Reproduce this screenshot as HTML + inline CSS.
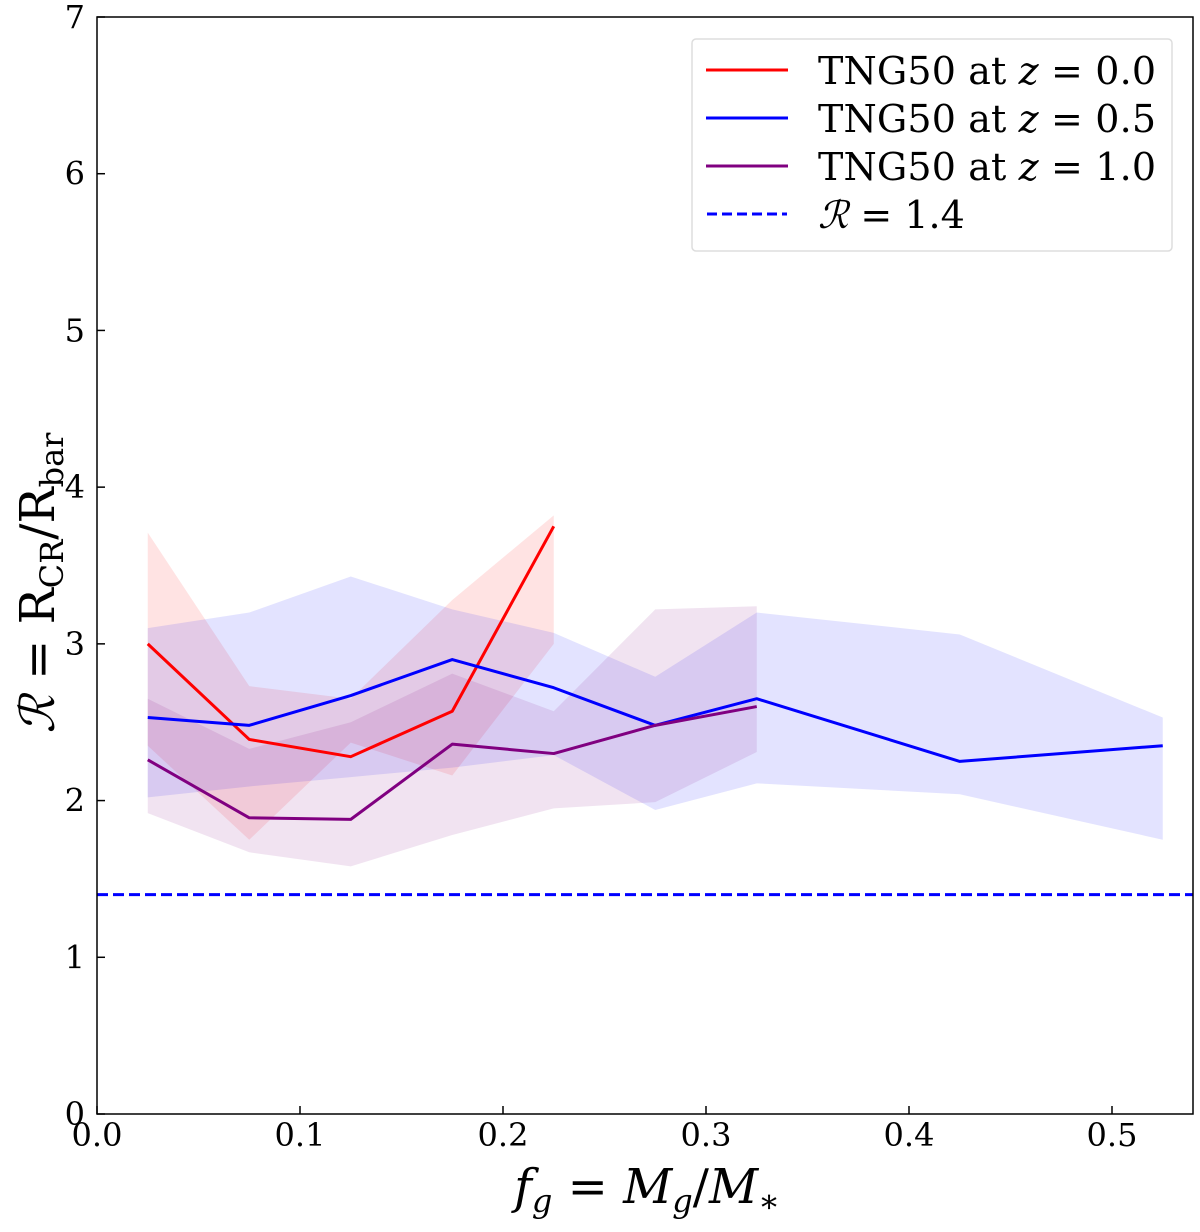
<!DOCTYPE html>
<html><head><meta charset="utf-8"><style>
html,body{margin:0;padding:0;background:#fff;width:1200px;height:1232px;overflow:hidden}
svg{display:block}
text{font-family:"DejaVu Serif","Liberation Serif",serif;fill:#000}
</style></head><body>
<svg id="chart" width="1200" height="1232"></svg>
<script>
const xs = [0.025,0.075,0.125,0.175,0.225,0.275,0.325,0.425,0.525];
const redY = [3.0,2.39,2.28,2.57,3.75];
const redUp = [3.71,2.73,2.65,3.28,3.82];
const redLo = [2.35,1.75,2.37,2.16,3.0];
const blueY = [2.53,2.48,2.67,2.90,2.72,2.48,2.65,2.25,2.35];
const blueUp = [3.10,3.20,3.43,3.22,3.07,2.79,3.20,3.06,2.53];
const blueLo = [2.02,2.09,2.15,2.21,2.29,1.94,2.11,2.04,1.75];
const purY = [2.26,1.89,1.88,2.36,2.30,2.48,2.60];
const purUp = [2.65,2.33,2.50,2.81,2.57,3.22,3.24];
const purLo = [1.92,1.67,1.58,1.78,1.95,1.99,2.31];
const xTicks = [0.0,0.1,0.2,0.3,0.4,0.5];
const yTicks = [0,1,2,3,4,5,6,7];
const refLine = 1.4;

const L=97,R=1193,T=17,B=1114;
const xs_=v=>L+v*(1015/0.5);
const Y=v=>B-v*(B-T)/7;
const NS="http://www.w3.org/2000/svg";
const svg=document.getElementById('chart');
function mk(tag,attrs,parent){const e=document.createElementNS(NS,tag);for(const k in attrs)e.setAttribute(k,attrs[k]);(parent||svg).appendChild(e);return e;}

function band(up,lo,color,name){
  const n=up.length;let pts=[];
  for(let i=0;i<n;i++)pts.push(xs_(xs[i])+','+Y(up[i]));
  for(let i=n-1;i>=0;i--)pts.push(xs_(xs[i])+','+Y(lo[i]));
  const p=mk('polygon',{points:pts.join(' '),fill:color,'fill-opacity':0.11});
  
  
}
function line(ys,color,name){
  const pts=ys.map((v,i)=>xs_(xs[i])+','+Y(v)).join(' ');
  const p=mk('polyline',{points:pts,fill:'none',stroke:color,'stroke-width':3,'stroke-linejoin':'round'});
  
  
}
band(redUp,redLo,'#ff0000','band-z0');
band(blueUp,blueLo,'#0000ff','band-z05');
band(purUp,purLo,'#800080','band-z1');
line(redY,'#ff0000','line-z0');
line(blueY,'#0000ff','line-z05');
line(purY,'#800080','line-z1');
const rl=mk('line',{x1:L,x2:R,y1:Y(refLine),y2:Y(refLine),stroke:'#0000ff','stroke-width':3,'stroke-dasharray':'11,5'});



const frame=mk('rect',{x:L,y:T,width:R-L,height:B-T,fill:'none',stroke:'#000','stroke-width':1.5});



xTicks.forEach(v=>{
  const x=xs_(v);
  mk('line',{x1:x,x2:x,y1:B,y2:B-8,stroke:'#000','stroke-width':1.5});
  const t=mk('text',{x:x,y:B+32,'font-size':32,'text-anchor':'middle'});t.textContent=v.toFixed(1);
  
  
});
yTicks.forEach(v=>{
  const y=Y(v);
  mk('line',{x1:L,x2:L+8,y1:y,y2:y,stroke:'#000','stroke-width':1.5});
  const t=mk('text',{x:L-12,y:y+11,'font-size':32,'text-anchor':'end'});t.textContent=v;
  
  
});
</script>
<svg width="1200" height="1232" style="position:absolute;left:0;top:0">
<text x="647" y="1203" font-size="48" text-anchor="middle" font-style="italic">f<tspan font-size="32" dy="9">g</tspan><tspan dy="-9" font-style="normal"> = </tspan>M<tspan font-size="32" dy="9">g</tspan><tspan dy="-9" font-style="normal">/</tspan>M<tspan font-size="32" dy="9" font-style="normal">∗</tspan></text>
<text transform="translate(54,583) rotate(-90)" font-size="48" text-anchor="middle"><tspan font-style="italic">ℛ</tspan> = R<tspan font-size="32" dy="9">CR</tspan><tspan dy="-9">/R</tspan><tspan font-size="32" dy="9">bar</tspan></text>
<g>
<rect x="692" y="39" width="480" height="212" rx="4" fill="#fff" stroke="#ddd" stroke-width="1.5"/>
<line x1="706" x2="788" y1="70" y2="70" stroke="#f00" stroke-width="3"/>
<text x="818" y="84" font-size="38" textLength="338">TNG50 at <tspan font-style="italic">z</tspan> = 0.0</text>
<line x1="706" x2="788" y1="118" y2="118" stroke="#00f" stroke-width="3"/>
<text x="818" y="132" font-size="38" textLength="338">TNG50 at <tspan font-style="italic">z</tspan> = 0.5</text>
<line x1="706" x2="788" y1="166" y2="166" stroke="#800080" stroke-width="3"/>
<text x="818" y="180" font-size="38" textLength="338">TNG50 at <tspan font-style="italic">z</tspan> = 1.0</text>
<line x1="707" x2="787" y1="214" y2="214" stroke="#00f" stroke-width="3" stroke-dasharray="10,5"/>
<text x="818" y="228" font-size="38"><tspan font-style="italic">ℛ</tspan> = 1.4</text>
</g>
</svg>
</body></html>
